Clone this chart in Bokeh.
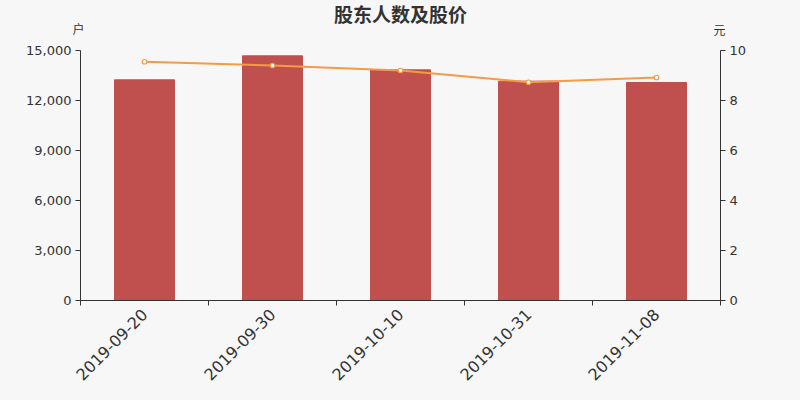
import math
import numpy as np
from bokeh.plotting import figure
from bokeh.layouts import column
from bokeh.models import (Range1d, LinearAxis, FixedTicker, NumeralTickFormatter, Label)
from bokeh.embed import file_html
from bokeh.resources import INLINE

title_text = "股东人数及股价"
left_unit = "户"
right_unit = "元"
dates = ["2019-09-20", "2019-09-30", "2019-10-10", "2019-10-31", "2019-11-08"]
holders = [13240, 14680, 13840, 13160, 13080]
prices = [9.55, 9.40, 9.20, 8.73, 8.92]
left_ticks = [0, 3000, 6000, 9000, 12000, 15000]
right_ticks = [0, 2, 4, 6, 8, 10]

BG = "#f7f7f7"
TXT = "#333333"
FONT = "DejaVu Sans"
CJK = "Noto Sans CJK SC"
BAR = "#c0504d"
LINE = "#f59a45"

W, HEAD_H, MAIN_H = 800, 42, 358

# ---- header: title and unit captions ----
head = figure(width=W, height=HEAD_H, output_backend="svg", toolbar_location=None,
              x_range=Range1d(0, W), y_range=Range1d(HEAD_H, 0),
              x_axis_type=None, y_axis_type=None,
              background_fill_color=BG, border_fill_color=BG, outline_line_color=None,
              min_border=0, frame_align=False)
head.grid.visible = False
head.add_layout(Label(x=400, y=13, text=title_text, text_align="center",
                      text_baseline="middle", text_font=CJK, text_font_size="19px",
                      text_font_style="bold", text_color=TXT))
head.add_layout(Label(x=78, y=28, text=left_unit, text_align="center",
                      text_baseline="middle", text_font=CJK, text_font_size="12px",
                      text_color=TXT))
head.add_layout(Label(x=719, y=29, text=right_unit, text_align="center",
                      text_baseline="middle", text_font=CJK, text_font_size="12px",
                      text_color=TXT))

# ---- main chart ----
xs = np.arange(len(dates)) + 0.5

p = figure(width=W, height=MAIN_H, output_backend="svg", toolbar_location=None,
           x_range=Range1d(0, len(dates)), y_range=Range1d(0, 15000),
           x_axis_type=None, y_axis_type=None,
           background_fill_color=BG, border_fill_color=BG,
           min_border_left=80, min_border_right=80, min_border_top=8,
           min_border_bottom=100, outline_line_color=None, frame_align=False)
p.grid.visible = False
p.extra_y_ranges = {"price": Range1d(0, 10)}

p.vbar(x=xs, top=holders, width=60 / 128, color=BAR)
p.line(xs, prices, y_range_name="price", line_color=LINE, line_width=2)
p.scatter(xs, prices, y_range_name="price", size=4.5, fill_color="white",
          line_color=LINE, line_width=1.2)

def style(ax):
    ax.axis_line_color = TXT
    ax.major_tick_line_color = TXT
    ax.major_tick_in = 0
    ax.major_tick_out = 5
    ax.minor_tick_in = 0
    ax.minor_tick_out = 5
    ax.major_label_text_color = TXT
    ax.major_label_text_font = FONT
    ax.major_label_text_font_size = "13px"

xax = LinearAxis(ticker=FixedTicker(ticks=list(xs), minor_ticks=list(range(len(dates) + 1))),
                 major_label_overrides={float(x): d for x, d in zip(xs, dates)})
style(xax)
xax.major_tick_line_color = None
xax.minor_tick_line_color = TXT
xax.major_label_orientation = math.pi / 4
xax.major_label_text_font_size = "16px"
xax.major_label_standoff = 6
p.add_layout(xax, "below")

lax = LinearAxis(ticker=FixedTicker(ticks=left_ticks),
                 formatter=NumeralTickFormatter(format="0,0"))
style(lax)
lax.minor_tick_line_color = None
lax.major_label_standoff = 4
p.add_layout(lax, "left")

rax = LinearAxis(y_range_name="price", ticker=FixedTicker(ticks=right_ticks))
style(rax)
rax.minor_tick_line_color = None
rax.major_label_standoff = 4
p.add_layout(rax, "right")

layout = column(head, p, spacing=0, styles={"background-color": BG})
open("out.html", "w").write(file_html(layout, INLINE))
